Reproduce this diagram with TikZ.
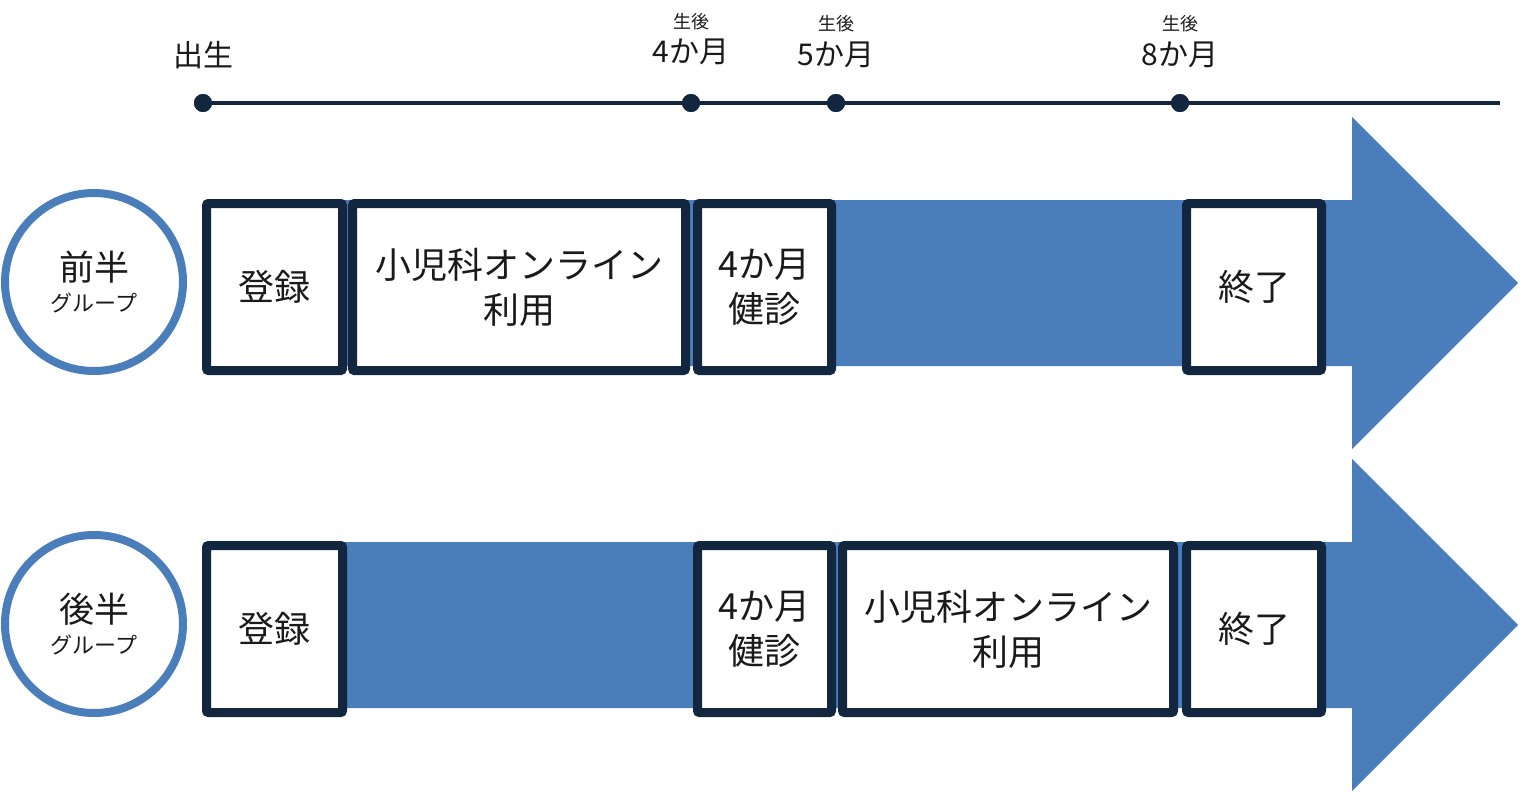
\documentclass[tikz,border=0pt]{standalone}
\usepackage{fontspec}
\setmainfont{Noto Sans CJK JP}
\definecolor{navy}{HTML}{12263F}
\definecolor{arrowblue}{HTML}{4A7EBB}
\definecolor{txt}{HTML}{1A1A1A}
\begin{document}
\begin{tikzpicture}[x=1pt,y=-1pt,
  stagebox/.style={draw=navy,line width=9pt,fill=white,rounded corners=2pt,
    minimum height=167pt,inner sep=0pt,align=center,text=txt,
    font=\fontsize{36}{45}\selectfont},
  groupcircle/.style={circle,draw=arrowblue,line width=8pt,fill=white,
    minimum size=178pt,inner sep=0pt,align=center,text=txt,
    font=\fontsize{35}{31}\selectfont},
  tdot/.style={circle,fill=navy,minimum size=18pt,inner sep=0pt},
  tline/.style={draw=navy,line width=4pt},
  toplabel/.style={text=txt,font=\fontsize{30}{32}\selectfont,inner sep=0pt},
  smalllabel/.style={text=txt,font=\fontsize{18}{20}\selectfont,inner sep=0pt},
  bigarrow/.style={fill=arrowblue}
]
\useasboundingbox (0,0) rectangle (1525,801);

% timeline
\coordinate (tend) at (1500,103);
\node[tdot] (t0) at (203,103) {};
\node[tdot] (t4) at (691,103) {};
\node[tdot] (t5) at (836,103) {};
\node[tdot] (t8) at (1180,103) {};
\draw[tline] (t0.center) -- (tend);
\node[tdot] at (t0) {};
\node[tdot] at (t4) {};
\node[tdot] at (t5) {};
\node[tdot] at (t8) {};

\node[toplabel] (l0) at (203,55) {出生};
\node[smalllabel] (s4) at (691,22) {生後};
\node[toplabel] (l4) at (691,52) {4か月};
\node[smalllabel] (s5) at (836,24) {生後};
\node[toplabel] (l5) at (836,55) {5か月};
\node[smalllabel] (s8) at (1180,24) {生後};
\node[toplabel] (l8) at (1180,55) {8か月};

% arrows
\fill[bigarrow] (205,200) -- (1352,200) -- (1352,117) -- (1518,283) -- (1352,449) -- (1352,366) -- (205,366) -- cycle;
\fill[bigarrow] (205,542) -- (1352,542) -- (1352,459) -- (1518,625) -- (1352,791) -- (1352,708) -- (205,708) -- cycle;

% row 1
\node[groupcircle] (g1) at (94,282) {前半\\{\fontsize{22}{24}\selectfont グループ}};
\node[stagebox,minimum width=136pt] (a1) at (274.5,287) {登録};
\node[stagebox,minimum width=333pt] (a2) at (519,287) {小児科オンライン\\利用};
\node[stagebox,minimum width=134pt] (a3) at (764.5,287) {4か月\\健診};
\node[stagebox,minimum width=135pt] (a4) at (1254,287) {終了};

% row 2
\node[groupcircle] (g2) at (94,624) {後半\\{\fontsize{22}{24}\selectfont グループ}};
\node[stagebox,minimum width=136pt] (b1) at (274.5,629) {登録};
\node[stagebox,minimum width=134pt] (b2) at (764.5,629) {4か月\\健診};
\node[stagebox,minimum width=331pt] (b3) at (1008,629) {小児科オンライン\\利用};
\node[stagebox,minimum width=135pt] (b4) at (1254,629) {終了};
\end{tikzpicture}
\end{document}
